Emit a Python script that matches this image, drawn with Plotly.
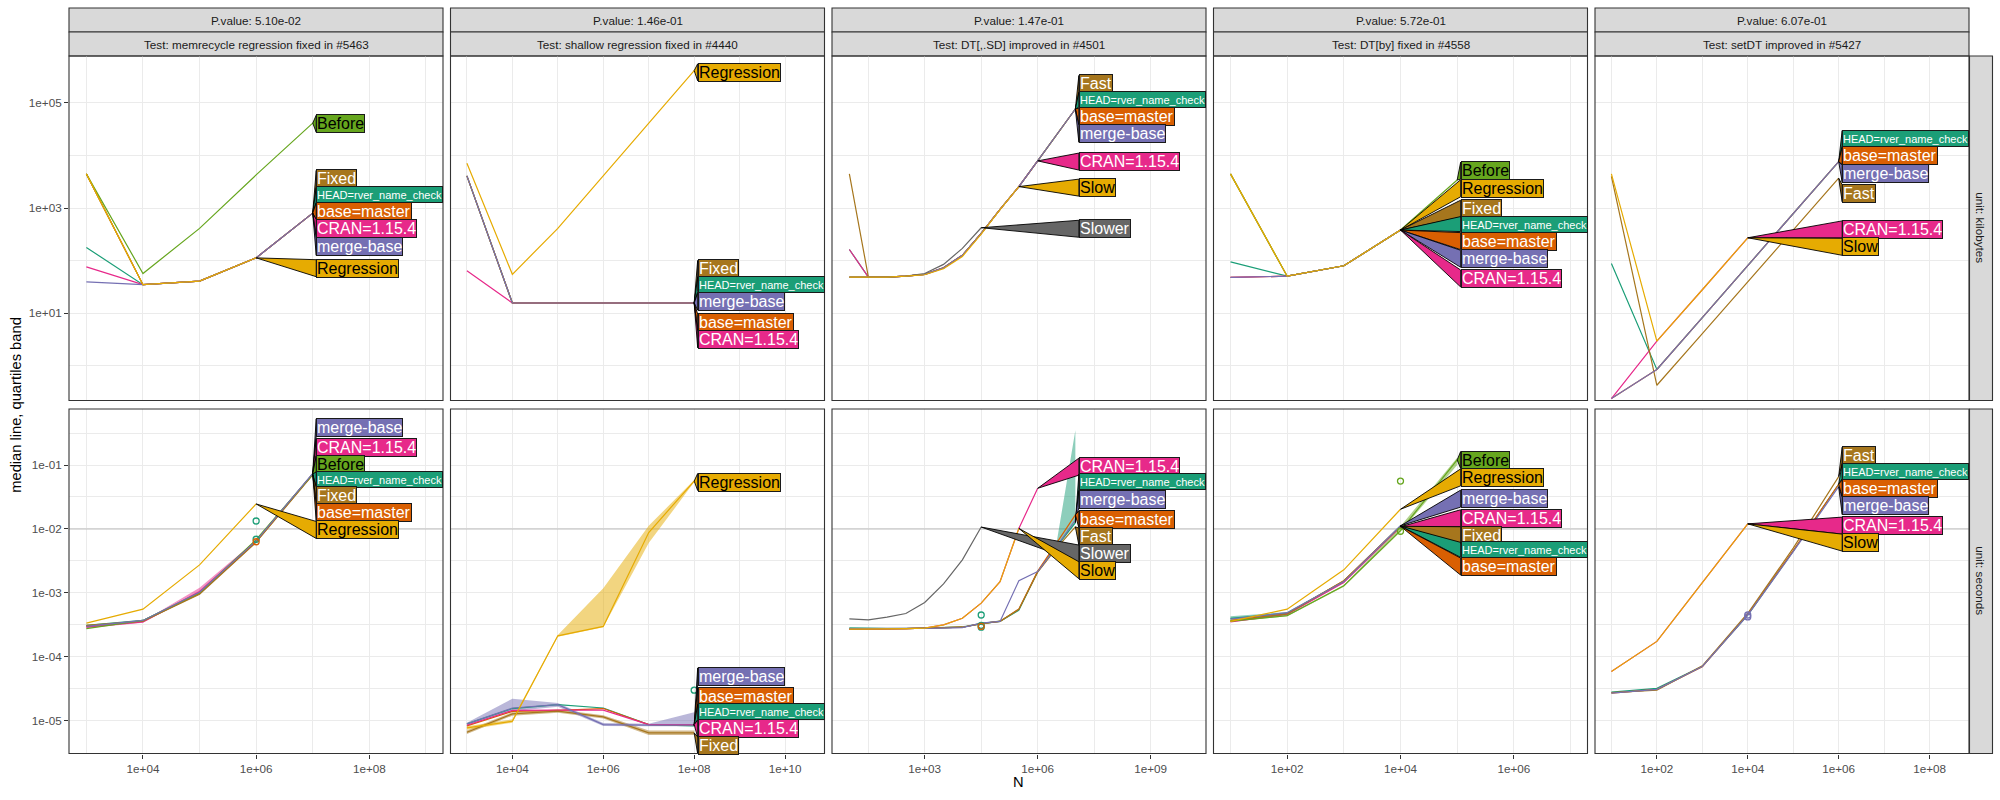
import math
import plotly.graph_objects as go

# ---------------- data ----------------
HEAD = "HEAD=rver_name_check"
BASE = "base=master"
MB = "merge-base"
CRAN = "CRAN=1.15.4"

PVALUES = ["P.value: 5.10e-02", "P.value: 1.46e-01", "P.value: 1.47e-01",
           "P.value: 5.72e-01", "P.value: 6.07e-01"]
TESTS = ["Test: memrecycle regression fixed in #5463", "Test: shallow regression fixed in #4440",
         "Test: DT[,.SD] improved in #4501", "Test: DT[by] fixed in #4558",
         "Test: setDT improved in #5427"]
UNITS = ["unit: kilobytes", "unit: seconds"]

# memrecycle
N_MEMRECYCLE = [1e3, 1e4, 1e5, 1e6, 1e7]
MEMRECYCLE_KB = {
    HEAD: [178, 35, 41, 113, 800],
    BASE: [4450, 35, 41, 113, 800],
    CRAN: [76, 35, 41, 113, 800],
    "Fixed": [4450, 35, 41, 113, 800],
    "Before": [4450, 57, 410, 4250, 41000],
    MB: [39.5, 35, 41, 113, 800],
    "Regression": [4450, 35, 41, 113, None],
}
MEMRECYCLE_SEC = {
    HEAD: [3.1e-4, 3.7e-4, 1.0e-3, 6.6e-3, 0.072],
    BASE: [3.0e-4, 3.6e-4, 0.98e-3, 6.3e-3, 0.072],
    CRAN: [2.9e-4, 3.5e-4, 1.05e-3, 6.5e-3, 0.072],
    "Fixed": [3.1e-4, 3.6e-4, 0.95e-3, 6.2e-3, 0.070],
    "Before": [2.75e-4, 3.7e-4, 1.0e-3, 6.8e-3, 0.072],
    MB: [3.0e-4, 3.7e-4, 1.02e-3, 6.5e-3, 0.074],
    "Regression": [3.36e-4, 5.55e-4, 2.74e-3, 0.0246, None],
}
MEMRECYCLE_SEC_Q1 = {CRAN: [2.8e-4, 3.4e-4, 1.0e-3, 6.3e-3, 0.070]}
MEMRECYCLE_SEC_Q3 = {CRAN: [3.1e-4, 3.6e-4, 1.2e-3, 6.7e-3, 0.074]}
MEMRECYCLE_SEC_PTS = {HEAD: ([1e6, 1e6], [0.0133, 0.0069]), BASE: ([1e6], [0.0063])}

# shallow
N_SHALLOW = [1e3, 1e4, 1e5, 1e6, 1e7, 1e8]
SHALLOW_KB = {
    HEAD: [4070, 15.7, 15.7, 15.7, 15.7, 15.7],
    BASE: [4070, 15.7, 15.7, 15.7, 15.7, 15.7],
    "Fixed": [4070, 15.7, 15.7, 15.7, 15.7, 15.7],
    CRAN: [64, 15.7, 15.7, 15.7, 15.7, 15.7],
    MB: [4070, 15.7, 15.7, 15.7, 15.7, 15.7],
    "Regression": [7100, 55, 410, 4070, 40400, 407000],
}
SHALLOW_SEC = {
    HEAD: [8.9e-6, 1.55e-5, 1.78e-5, 1.58e-5, 8.7e-6, 8.3e-6],
    BASE: [8.3e-6, 1.4e-5, 1.45e-5, 1.55e-5, 8.7e-6, 8.5e-6],
    CRAN: [8.5e-6, 1.45e-5, 1.46e-5, 1.46e-5, 8.7e-6, 8.7e-6],
    "Fixed": [6.6e-6, 1.28e-5, 1.41e-5, 1.15e-5, 6.45e-6, 6.45e-6],
    MB: [8.97e-6, 1.58e-5, 1.78e-5, 8.7e-6, 8.5e-6, 8.5e-6],
    "Regression": [7.7e-6, 9.8e-6, 2.13e-4, 2.98e-4, 8.8e-3, 0.056],
}
SHALLOW_SEC_Q1 = {
    "Regression": [7.2e-6, 9.3e-6, 2.05e-4, 2.9e-4, 6.0e-3, 0.054],
    MB: [8.6e-6, 1.4e-5, 1.65e-5, 8.3e-6, 8.2e-6, 8.2e-6],
    "Fixed": [6.2e-6, 1.2e-5, 1.33e-5, 1.08e-5, 6.0e-6, 6.0e-6],
}
SHALLOW_SEC_Q3 = {
    "Regression": [8.2e-6, 1.05e-5, 2.2e-4, 1.18e-3, 0.0112, 0.058],
    MB: [9.3e-6, 2.2e-5, 1.9e-5, 9.2e-6, 9.0e-6, 1.35e-5],
    "Fixed": [7.0e-6, 1.36e-5, 1.5e-5, 1.22e-5, 7.0e-6, 7.0e-6],
}
SHALLOW_SEC_PTS = {HEAD: ([1e8], [3.0e-5])}

# DT[,.SD]
N_DTSD = [10, 32, 100, 316, 1000, 3162, 10000, 31623, 100000, 316228, 1e6, 3162278, 1e7]
DTSD_KB = {
    HEAD: [163, 48.5, 48.5, 50.7, 55, 73, 126, 330, 944, 2550, 7850, 24500, 76000],
    BASE: [48.5, 48.5, 48.5, 50.7, 55, 73, 126, 330, 944, 2550, 7850, 24500, 76000],
    CRAN: [163, 48.5, 48.5, 50.7, 55, 73, 126, 330, 944, 2550, 7850, None, None],
    "Fast": [4450, 48.5, 48.5, 50.7, 55, 73, 126, 330, 944, 2550, 7850, 24500, 76000],
    MB: [48.5, 48.5, 48.5, 50.7, 55, 73, 126, 330, 944, 2550, 7850, 24500, 76000],
    "Slower": [48.5, 48.5, 48.5, 51, 57, 85, 171, 422, None, None, None, None, None],
    "Slow": [48.5, 48.5, 48.5, 50.7, 54, 70, 120, 320, 930, 2550, None, None, None],
}
DTSD_SEC = {
    HEAD: [2.8e-4, 2.75e-4, 2.75e-4, 2.75e-4, 2.8e-4, 2.85e-4, 2.9e-4, 3.3e-4, 3.57e-4, 5.4e-4, 2.15e-3, 5.3e-3, 0.0125],
    BASE: [2.7e-4, 2.7e-4, 2.75e-4, 2.75e-4, 2.8e-4, 2.85e-4, 2.9e-4, 3.3e-4, 3.57e-4, 5.6e-4, 2.2e-3, 6.0e-3, 0.0166],
    CRAN: [2.7e-4, 2.7e-4, 2.7e-4, 2.75e-4, 2.8e-4, 3.16e-4, 4.0e-4, 6.9e-4, 1.5e-3, 0.0102, 0.0432, None, None],
    "Fast": [2.7e-4, 2.7e-4, 2.7e-4, 2.75e-4, 2.8e-4, 2.85e-4, 2.9e-4, 3.3e-4, 3.6e-4, 5.5e-4, 2.1e-3, 5.0e-3, 0.0108],
    MB: [2.75e-4, 2.75e-4, 2.75e-4, 2.75e-4, 2.75e-4, 2.8e-4, 2.85e-4, 3.36e-4, 3.57e-4, 1.55e-3, 2.15e-3, 5.3e-3, 0.0138],
    "Slower": [3.93e-4, 3.79e-4, 4.17e-4, 4.75e-4, 7.06e-4, 1.38e-3, 3.28e-3, 0.0107, None, None, None, None, None],
    "Slow": [2.7e-4, 2.7e-4, 2.7e-4, 2.75e-4, 2.8e-4, 3.16e-4, 4.0e-4, 6.9e-4, 1.5e-3, 0.0102, None, None, None],
}
DTSD_SEC_Q1 = {HEAD: [2.7e-4, 2.7e-4, 2.7e-4, 2.7e-4, 2.75e-4, 2.8e-4, 2.85e-4, 3.2e-4, 3.5e-4, 5.2e-4, 2.1e-3, 5.0e-3, 0.012]}
DTSD_SEC_Q3 = {HEAD: [2.9e-4, 2.85e-4, 2.85e-4, 2.85e-4, 2.9e-4, 2.95e-4, 3.0e-4, 3.4e-4, 3.7e-4, 5.6e-4, 2.2e-3, 6.0e-3, 0.35]}
DTSD_SEC_PTS = {HEAD: ([31623, 31623, 31623], [4.5e-4, 3.1e-4, 2.9e-4]), BASE: ([31623], [3.0e-4])}

# DT[by]
N_DTBY = [1e1, 1e2, 1e3, 1e4, 1e5]
DTBY_KB = {
    HEAD: [95, 50.7, 80, 381, None],
    BASE: [48, 50.7, 80, 381, None],
    CRAN: [48, 50.7, 80, 381, None],
    "Fixed": [4450, 50.7, 80, 381, None],
    MB: [48, 50.7, 80, 381, None],
    "Before": [4450, 50.7, 80, 381, 3400],
    "Regression": [4450, 50.7, 80, 381, None],
}
DTBY_SEC = {
    HEAD: [4.0e-4, 4.8e-4, 1.5e-3, 0.0111, None],
    BASE: [3.7e-4, 4.7e-4, 1.55e-3, 0.0110, None],
    CRAN: [3.5e-4, 4.6e-4, 1.45e-3, 0.0108, None],
    "Fixed": [3.6e-4, 4.7e-4, 1.55e-3, 0.0110, None],
    MB: [3.9e-4, 4.9e-4, 1.5e-3, 0.0112, None],
    "Before": [3.6e-4, 4.4e-4, 1.29e-3, 9.4e-3, 0.12],
    "Regression": [3.57e-4, 5.55e-4, 2.29e-3, 0.0203, None],
}
DTBY_SEC_Q1 = {HEAD: [3.7e-4, 4.6e-4, 1.45e-3, 0.0108, None], "Before": [3.5e-4, 4.3e-4, 1.25e-3, 9.0e-3, 0.10]}
DTBY_SEC_Q3 = {HEAD: [4.3e-4, 5.0e-4, 1.55e-3, 0.0114, None], "Before": [3.7e-4, 4.5e-4, 1.33e-3, 0.011, 0.13]}
DTBY_SEC_PTS = {"Before": ([1e4, 1e4], [0.056, 9.2e-3])}

# setDT
N_SETDT = [1e1, 1e2, 1e3, 1e4, 1e5, 1e6]
SETDT_KB = {
    HEAD: [88, 0.857, 8.3, 81, 785, 7620],
    BASE: [0.24, 0.857, 8.3, 81, 785, 7620],
    CRAN: [0.24, 2.97, 28, 272, None, None],
    "Fast": [4000, 0.43, 4.1, 39.5, 381, 3680],
    MB: [0.24, 0.857, 8.3, 81, 785, 7620],
    "Slow": [4450, 2.97, 28, 272, None, None],
}
SETDT_SEC = {
    HEAD: [2.8e-5, 3.2e-5, 7.1e-5, 4.5e-4, 4.5e-3, 0.050],
    BASE: [2.7e-5, 3.1e-5, 7.0e-5, 4.6e-4, 4.6e-3, 0.050],
    CRAN: [5.9e-5, 1.74e-4, 1.45e-3, 0.012, None, None],
    "Fast": [2.75e-5, 3.0e-5, 7.2e-5, 4.8e-4, 5.0e-3, 0.0658],
    MB: [2.7e-5, 3.1e-5, 7.06e-5, 4.5e-4, 4.4e-3, 0.0458],
    "Slow": [5.9e-5, 1.74e-4, 1.45e-3, 0.012, None, None],
}
SETDT_SEC_PTS = {MB: ([1e4, 1e4], [4.5e-4, 4.2e-4])}

# direct-label vertical positions (log10 units of each panel's y axis)
LAB_MEMRECYCLE_KB = {"Before": 4.6, "Fixed": 3.552, HEAD: 3.248, BASE: 2.937, CRAN: 2.619, MB: 2.263, "Regression": 1.857}
LAB_MEMRECYCLE_SEC = {MB: -0.411, CRAN: -0.723, "Before": -0.989, HEAD: -1.224, "Fixed": -1.484, BASE: -1.745, "Regression": -2.016}
LAB_SHALLOW_KB = {"Regression": 5.577, "Fixed": 1.844, HEAD: 1.552, MB: 1.22, BASE: 0.823, CRAN: 0.505}
LAB_SHALLOW_SEC = {"Regression": -1.266, MB: -4.307, BASE: -4.62, HEAD: -4.86, CRAN: -5.125, "Fixed": -5.386}
LAB_DTSD_KB = {"Fast": 5.356, HEAD: 5.057, BASE: 4.733, MB: 4.41, CRAN: 3.882, "Slow": 3.387, "Slower": 2.606}
LAB_DTSD_SEC = {CRAN: -1.026, HEAD: -1.26, MB: -1.536, BASE: -1.849, "Fast": -2.12, "Slower": -2.385, "Slow": -2.646}
LAB_DTBY_KB = {"Before": 3.71, "Regression": 3.375, "Fixed": 2.987, HEAD: 2.695, BASE: 2.371, MB: 2.035, CRAN: 1.661}
LAB_DTBY_SEC = {"Before": -0.922, "Regression": -1.193, MB: -1.526, CRAN: -1.833, "Fixed": -2.099, HEAD: -2.328, BASE: -2.589}
LAB_SETDT_KB = {HEAD: 4.327, BASE: 3.99, MB: 3.648, "Fast": 3.28, CRAN: 2.594, "Slow": 2.263}
LAB_SETDT_SEC = {"Fast": -0.855, HEAD: -1.094, BASE: -1.365, MB: -1.641, CRAN: -1.948, "Slow": -2.214}

REF_LINE_SEC = 0.01

# ---------------- styling / layout ----------------
COLORS = {HEAD: "#1B9E77", BASE: "#D95F02", MB: "#7570B3", CRAN: "#E7298A",
          "Before": "#66A61E", "Regression": "#E6AB02", "Slow": "#E6AB02",
          "Fixed": "#A6761D", "Fast": "#A6761D", "Slower": "#666666"}
DARK_TEXT = {"Regression", "Slow", "Before"}
DRAW_ORDER = [HEAD, BASE, CRAN, "Fixed", "Fast", "Before", MB, "Slower", "Regression", "Slow"]
FONT = "Liberation Sans, Arial, sans-serif"
GRID = "#EBEBEB"
FRAME = "#333333"

W, H = 2000, 800
COL_LEFT = [69 + i * 381.5 for i in range(5)]
COL_W = 374
ROW_TOP = [56, 409]
ROW_H = 344.5
X_RANGES = [(2.693, 9.302), (2.639, 10.867), (0.539, 10.468), (0.70, 7.30), (0.639, 8.867)]
Y_RANGES = [(-0.656, 5.887), (-5.513, -0.124)]
X_MAJOR = [[1e4, 1e6, 1e8], [1e4, 1e6, 1e8, 1e10], [1e3, 1e6, 1e9], [1e2, 1e4, 1e6], [1e2, 1e4, 1e6, 1e8]]
X_MINOR = [[1e3, 1e5, 1e7, 1e9], [1e3, 1e5, 1e7, 1e9], [10 ** 1.5, 10 ** 4.5, 10 ** 7.5],
           [1e1, 1e3, 1e5, 1e7], [1e1, 1e3, 1e5, 1e7]]
Y_MAJOR = [[1e1, 1e3, 1e5], [1e-5, 1e-4, 1e-3, 1e-2, 1e-1]]
Y_MINOR = [[1e0, 1e2, 1e4], [10 ** -5.5, 10 ** -4.5, 10 ** -3.5, 10 ** -2.5, 10 ** -1.5, 10 ** -0.5]]

PANELS = [
    [(N_MEMRECYCLE, MEMRECYCLE_KB, LAB_MEMRECYCLE_KB, {}, {}, {}),
     (N_SHALLOW, SHALLOW_KB, LAB_SHALLOW_KB, {}, {}, {}),
     (N_DTSD, DTSD_KB, LAB_DTSD_KB, {}, {}, {}),
     (N_DTBY, DTBY_KB, LAB_DTBY_KB, {}, {}, {}),
     (N_SETDT, SETDT_KB, LAB_SETDT_KB, {}, {}, {})],
    [(N_MEMRECYCLE, MEMRECYCLE_SEC, LAB_MEMRECYCLE_SEC, MEMRECYCLE_SEC_Q1, MEMRECYCLE_SEC_Q3, MEMRECYCLE_SEC_PTS),
     (N_SHALLOW, SHALLOW_SEC, LAB_SHALLOW_SEC, SHALLOW_SEC_Q1, SHALLOW_SEC_Q3, SHALLOW_SEC_PTS),
     (N_DTSD, DTSD_SEC, LAB_DTSD_SEC, DTSD_SEC_Q1, DTSD_SEC_Q3, DTSD_SEC_PTS),
     (N_DTBY, DTBY_SEC, LAB_DTBY_SEC, DTBY_SEC_Q1, DTBY_SEC_Q3, DTBY_SEC_PTS),
     (N_SETDT, SETDT_SEC, LAB_SETDT_SEC, {}, {}, SETDT_SEC_PTS)],
]


def fmt(v):
    return f"{v:.0e}"


def sfx(k):
    return "" if k == 1 else str(k)


def rgba(hex_color, a):
    h = hex_color.lstrip("#")
    return f"rgba({int(h[0:2], 16)},{int(h[2:4], 16)},{int(h[4:6], 16)},{a})"


fig = go.Figure()
annotations = []
shapes = []
layout_axes = {}

for r in range(2):
    for c in range(5):
        k = r * 5 + c + 1
        xs, ys = "x" + sfx(k), "y" + sfx(k)
        xd = [COL_LEFT[c] / W, (COL_LEFT[c] + COL_W) / W]
        yd = [1 - (ROW_TOP[r] + ROW_H) / H, 1 - ROW_TOP[r] / H]
        layout_axes["xaxis" + sfx(k)] = dict(
            type="log", range=list(X_RANGES[c]), domain=xd, anchor=ys,
            tickmode="array", tickvals=X_MAJOR[c], ticktext=[fmt(v) for v in X_MAJOR[c]],
            showgrid=True, gridcolor=GRID, gridwidth=1.1, zeroline=False, showline=False,
            minor=dict(tickmode="array", tickvals=X_MINOR[c], showgrid=True, gridcolor=GRID,
                       gridwidth=0.55, ticks=""),
            ticks="outside" if r == 1 else "", ticklen=4, tickcolor=FRAME, tickwidth=1.07,
            showticklabels=(r == 1), tickfont=dict(family=FONT, size=11.7, color="#4D4D4D"),
        )
        layout_axes["yaxis" + sfx(k)] = dict(
            type="log", range=list(Y_RANGES[r]), domain=yd, anchor=xs,
            tickmode="array", tickvals=Y_MAJOR[r], ticktext=[fmt(v) for v in Y_MAJOR[r]],
            showgrid=True, gridcolor=GRID, gridwidth=1.1, zeroline=False, showline=False,
            minor=dict(tickmode="array", tickvals=Y_MINOR[r], showgrid=True, gridcolor=GRID,
                       gridwidth=0.55, ticks=""),
            ticks="outside" if c == 0 else "", ticklen=4, tickcolor=FRAME, tickwidth=1.07,
            showticklabels=(c == 0), tickfont=dict(family=FONT, size=11.7, color="#4D4D4D"),
        )

        N, data, labs, q1, q3, pts = PANELS[r][c]

        if r == 1:
            fig.add_trace(go.Scatter(x=[10 ** X_RANGES[c][0], 10 ** X_RANGES[c][1]],
                                     y=[REF_LINE_SEC, REF_LINE_SEC], mode="lines",
                                     line=dict(color="#BEBEBE", width=1.1),
                                     xaxis=xs, yaxis=ys, showlegend=False, hoverinfo="skip"))
        # quartile bands
        for v in DRAW_ORDER:
            if v in q1:
                fig.add_trace(go.Scatter(x=N, y=q1[v], mode="lines", line=dict(width=0, color=COLORS[v]),
                                         xaxis=xs, yaxis=ys, showlegend=False, hoverinfo="skip"))
                fig.add_trace(go.Scatter(x=N, y=q3[v], mode="lines", line=dict(width=0, color=COLORS[v]),
                                         fill="tonexty", fillcolor=rgba(COLORS[v], 0.5),
                                         xaxis=xs, yaxis=ys, showlegend=False, hoverinfo="skip"))
        # median lines
        for v in DRAW_ORDER:
            if v in data:
                fig.add_trace(go.Scatter(x=N, y=data[v], mode="lines", connectgaps=False,
                                         line=dict(color=COLORS[v], width=1.2),
                                         xaxis=xs, yaxis=ys, showlegend=False, name=v))
        # points
        for v, (px, py) in pts.items():
            fig.add_trace(go.Scatter(x=px, y=py, mode="markers",
                                     marker=dict(symbol="circle-open", size=6, color=COLORS[v],
                                                 line=dict(width=1.3, color=COLORS[v])),
                                     xaxis=xs, yaxis=ys, showlegend=False))

        # direct labels (polygon style)
        ppd_x = COL_W / (X_RANGES[c][1] - X_RANGES[c][0])
        ppd_y = ROW_H / (Y_RANGES[r][1] - Y_RANGES[r][0])
        xmax_log = max(math.log10(N[i]) for v in labs for i in range(len(N)) if data[v][i] is not None)
        lx = xmax_log + 3.5 / ppd_x
        left_px = COL_LEFT[c] + (lx - X_RANGES[c][0]) * ppd_x
        for v, ly in labs.items():
            vals = data[v]
            i = max(j for j in range(len(vals)) if vals[j] is not None)
            tx, ty = math.log10(N[i]), math.log10(vals[i])
            hpx = 15 if v == HEAD else 17
            hh = (hpx / 2) / ppd_y
            fig.add_trace(go.Scatter(
                x=[10 ** tx, 10 ** lx, 10 ** lx, 10 ** tx],
                y=[10 ** ty, 10 ** (ly + hh), 10 ** (ly - hh), 10 ** ty],
                mode="lines", fill="toself", fillcolor=COLORS[v],
                line=dict(color="#000000", width=0.9), xaxis=xs, yaxis=ys,
                showlegend=False, hoverinfo="skip"))
            ann = dict(x=lx, y=ly, xref=xs, yref=ys, text=v, showarrow=False,
                       xanchor="left", yanchor="middle", align="left",
                       bgcolor=COLORS[v], bordercolor="#1A1A1A", borderwidth=1, borderpad=0,
                       height=hpx,
                       font=dict(family=FONT, size=11 if v == HEAD else 16,
                                 color="#000000" if v in DARK_TEXT else "#FFFFFF"))
            if v == HEAD:
                ann["width"] = COL_LEFT[c] + COL_W - left_px - 2
            annotations.append(ann)

        # panel frame
        shapes.append(dict(type="rect", xref="paper", yref="paper", x0=xd[0], x1=xd[1], y0=yd[0], y1=yd[1],
                           line=dict(color=FRAME, width=1.1), fillcolor="rgba(0,0,0,0)", layer="above"))

# top strips
for c in range(5):
    x0, x1 = COL_LEFT[c] / W, (COL_LEFT[c] + COL_W) / W
    for (t0, t1, txt) in [(8, 32, PVALUES[c]), (32, 56, TESTS[c])]:
        shapes.append(dict(type="rect", xref="paper", yref="paper", x0=x0, x1=x1,
                           y0=1 - t1 / H, y1=1 - t0 / H, fillcolor="#D9D9D9",
                           line=dict(color=FRAME, width=1.1), layer="below"))
        annotations.append(dict(x=(x0 + x1) / 2, y=1 - (t0 + t1) / 2 / H, xref="paper", yref="paper",
                                text=txt, showarrow=False, xanchor="center", yanchor="middle",
                                font=dict(family=FONT, size=11.7, color="#1A1A1A")))
# right strips
for r in range(2):
    y0, y1 = 1 - (ROW_TOP[r] + ROW_H) / H, 1 - ROW_TOP[r] / H
    sx0, sx1 = 1969.5 / W, 1992.5 / W
    shapes.append(dict(type="rect", xref="paper", yref="paper", x0=sx0, x1=sx1, y0=y0, y1=y1,
                       fillcolor="#D9D9D9", line=dict(color=FRAME, width=1.1), layer="below"))
    annotations.append(dict(x=(sx0 + sx1) / 2, y=(y0 + y1) / 2, xref="paper", yref="paper",
                            text=UNITS[r], showarrow=False, textangle=90,
                            xanchor="center", yanchor="middle",
                            font=dict(family=FONT, size=11.7, color="#1A1A1A")))

# axis titles
annotations.append(dict(x=(COL_LEFT[0] + COL_LEFT[4] + COL_W) / 2 / W, y=1 - 781.5 / H,
                        xref="paper", yref="paper", text="N", showarrow=False,
                        xanchor="center", yanchor="middle",
                        font=dict(family=FONT, size=14.7, color="#000000")))
annotations.append(dict(x=16 / W, y=1 - (ROW_TOP[0] + ROW_TOP[1] + ROW_H) / 2 / H,
                        xref="paper", yref="paper", text="median line, quartiles band",
                        showarrow=False, textangle=-90, xanchor="center", yanchor="middle",
                        font=dict(family=FONT, size=14.7, color="#000000")))

fig.update_layout(
    width=W, height=H, margin=dict(l=0, r=0, t=0, b=0, pad=0),
    paper_bgcolor="white", plot_bgcolor="white", showlegend=False,
    annotations=annotations, shapes=shapes, font=dict(family=FONT),
    **layout_axes,
)

fig.write_html("out.html", config={"displayModeBar": False},
               post_script="document.body.style.margin='0px';document.body.style.overflow='hidden';")
